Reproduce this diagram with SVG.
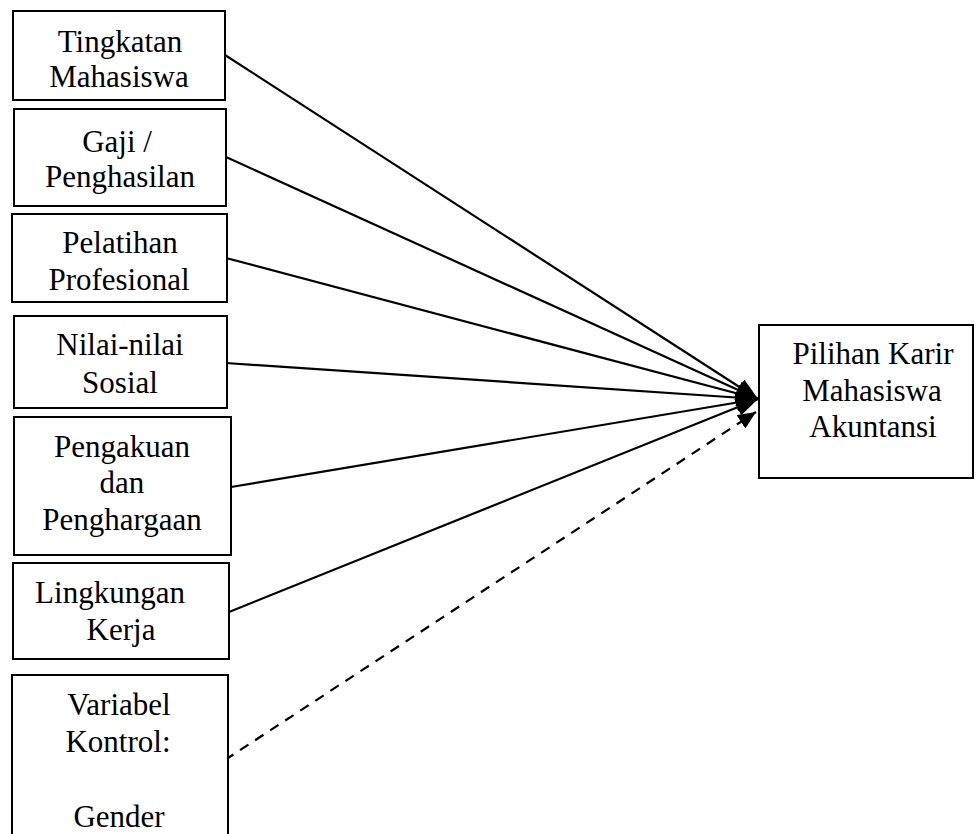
<svg xmlns="http://www.w3.org/2000/svg" width="975" height="834" viewBox="0 0 975 834">
<style>
.box{fill:#fff;stroke:#000;stroke-width:2}
.t{font-family:"Liberation Serif","Times New Roman",serif;font-size:31px;fill:#000;text-anchor:middle}
.ln{stroke:#000;stroke-width:2.2;fill:none}
.dash{stroke-dasharray:10 8}
</style>
<defs>
<marker id="ah" markerUnits="userSpaceOnUse" markerWidth="24" markerHeight="18" refX="22" refY="9" orient="auto">
<path d="M0,0 L22,9 L0,18 z" fill="#000"/>
</marker>
<marker id="ahs" markerUnits="userSpaceOnUse" markerWidth="20" markerHeight="16" refX="18" refY="8" orient="auto">
<path d="M0,0 L18,8 L0,16 z" fill="#000"/>
</marker>
</defs>
<rect width="975" height="834" fill="#fff"/>
<g id="connectors">
<line class="ln" x1="225" y1="55" x2="758" y2="399" marker-end="url(#ah)"/>
<line class="ln" x1="226" y1="157" x2="758" y2="399" marker-end="url(#ah)"/>
<line class="ln" x1="226" y1="258" x2="758" y2="399" marker-end="url(#ah)"/>
<line class="ln" x1="226" y1="363" x2="758" y2="399" marker-end="url(#ah)"/>
<line class="ln" x1="231" y1="487" x2="758" y2="399" marker-end="url(#ah)"/>
<line class="ln" x1="229" y1="612" x2="758" y2="399" marker-end="url(#ah)"/>
<line class="ln dash" x1="225" y1="760" x2="756" y2="412" marker-end="url(#ahs)"/>
</g>
<g id="n1"><rect class="box" x="13" y="11" width="212" height="89"/><text class="t" x="120" y="52">Tingkatan</text><text class="t" x="119" y="87">Mahasiswa</text></g>
<g id="n2"><rect class="box" x="14" y="109" width="212" height="97"/><text class="t" x="117" y="152">Gaji /</text><text class="t" x="120" y="187">Penghasilan</text></g>
<g id="n3"><rect class="box" x="12" y="214" width="215" height="88"/><text class="t" x="120" y="253">Pelatihan</text><text class="t" x="119" y="290">Profesional</text></g>
<g id="n4"><rect class="box" x="14" y="316" width="213" height="92"/><text class="t" x="120" y="355">Nilai-nilai</text><text class="t" x="120" y="393">Sosial</text></g>
<g id="n5"><rect class="box" x="14" y="417" width="217" height="138"/><text class="t" x="122" y="457">Pengakuan</text><text class="t" x="122" y="493">dan</text><text class="t" x="122" y="530">Penghargaan</text></g>
<g id="n6"><rect class="box" x="13" y="563" width="216" height="96"/><text class="t" x="110" y="603">Lingkungan</text><text class="t" x="121" y="640">Kerja</text></g>
<g id="n7"><rect class="box" x="12" y="675" width="216" height="170"/><text class="t" x="119" y="715">Variabel</text><text class="t" x="118" y="752">Kontrol:</text><text class="t" x="119" y="827">Gender</text></g>
<g id="target"><rect class="box" x="759" y="325" width="214" height="153"/><text class="t" x="873" y="364">Pilihan Karir</text><text class="t" x="872" y="401">Mahasiswa</text><text class="t" x="873" y="437">Akuntansi</text></g>
</svg>
